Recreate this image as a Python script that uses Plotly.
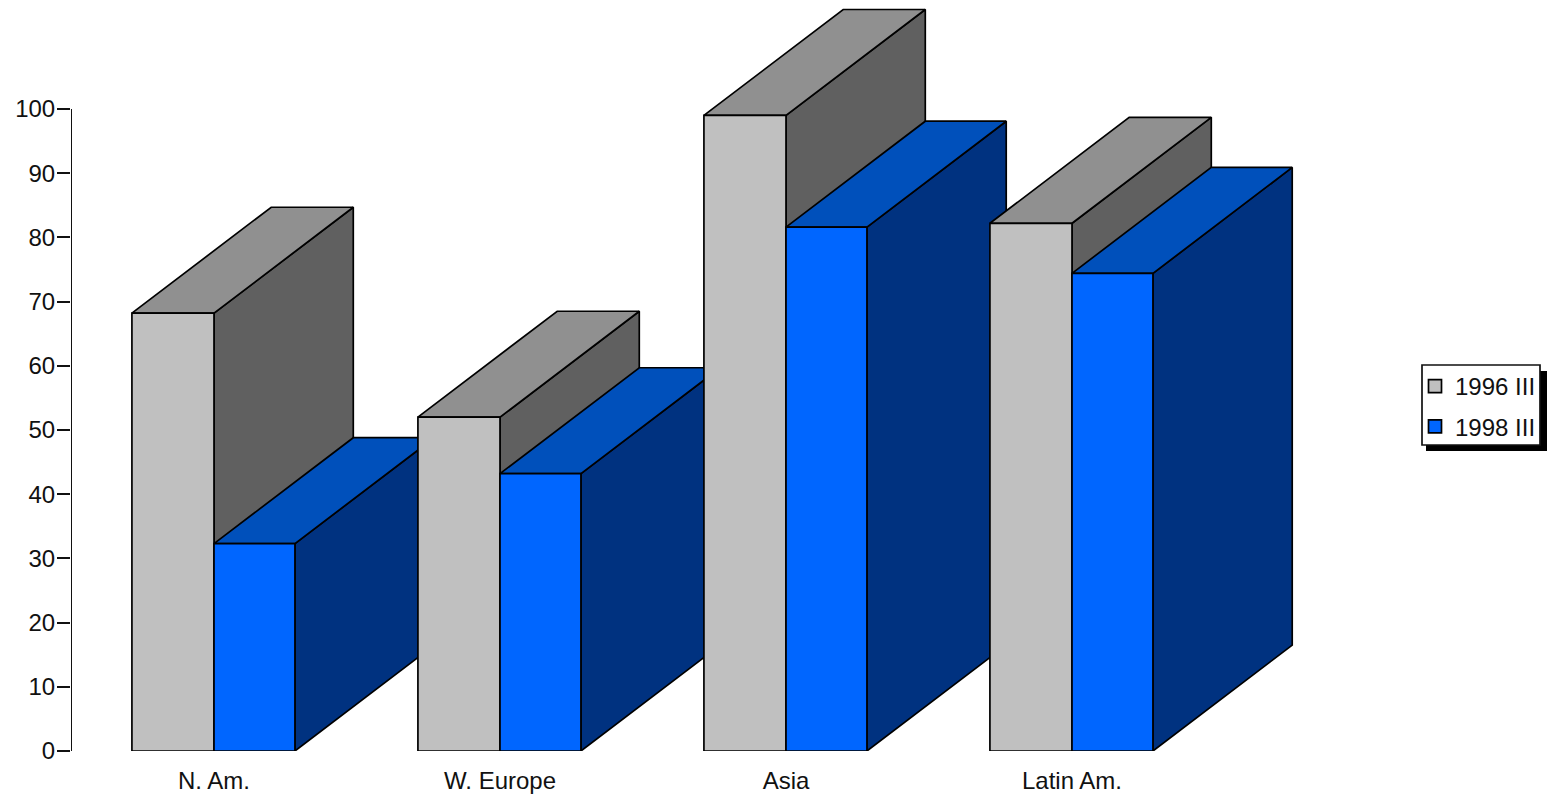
import plotly.graph_objects as go

categories = ["N. Am.", "W. Europe", "Asia", "Latin Am."]
series_1996 = [68.2, 52.0, 99.0, 82.2]
series_1998 = [32.3, 43.2, 81.6, 74.4]
y_ticks = [0, 10, 20, 30, 40, 50, 60, 70, 80, 90, 100]

BAR_W_BACK = 0.287
BAR_W_FRONT = 0.283
DEPTH_X = 0.487
DEPTH_Y = 16.5
EDGE = dict(color="#000000", width=1.7)
FONT = dict(family="Liberation Sans, Arial, sans-serif", size=24, color="#111111")

STYLE = {
    "1996 III": dict(front="#C0C0C0", top="#909090", side="#606060"),
    "1998 III": dict(front="#0066FF", top="#0050BB", side="#003280"),
}

W, H = 1547, 796
L, T, B = 71, 0, 45
PW, PH = W - L, H - T - B

fig = go.Figure()


def face(xs, ys, color):
    fig.add_trace(go.Scatter(
        x=xs, y=ys, mode="lines", fill="toself", fillcolor=color,
        line=EDGE, hoverinfo="skip", showlegend=False, cliponaxis=False,
    ))


def box(x0, x1, value, st):
    d, h = DEPTH_X, DEPTH_Y
    face([x1, x1 + d, x1 + d, x1, x1], [0, h, value + h, value, 0], st["side"])
    face([x0, x0 + d, x1 + d, x1, x0], [value, value + h, value + h, value, value], st["top"])
    face([x0, x1, x1, x0, x0], [0, 0, value, value, 0], st["front"])


for i in range(len(categories)):
    c = i + 0.5
    box(c - BAR_W_BACK, c, series_1996[i], STYLE["1996 III"])
    box(c, c + BAR_W_FRONT, series_1998[i], STYLE["1998 III"])

# value-axis line spans only the labelled range
fig.add_trace(go.Scatter(
    x=[0, 0], y=[y_ticks[0], y_ticks[-1]], mode="lines",
    line=dict(color="#111111", width=2), hoverinfo="skip",
    showlegend=False, cliponaxis=False,
))

for name in STYLE:
    fig.add_trace(go.Scatter(
        x=[None], y=[None], mode="markers", name=name, legendgroup=name,
        marker=dict(symbol="square", size=13, color=STYLE[name]["front"],
                    line=dict(color="#000000", width=1.7)),
    ))


def px(v):
    return (v - L) / PW


def py(v):
    return 1 - (v - T) / PH


fig.update_layout(
    width=W, height=H,
    margin=dict(l=L, r=0, t=T, b=B, autoexpand=False),
    paper_bgcolor="#FFFFFF", plot_bgcolor="#FFFFFF",
    font=FONT,
    showlegend=True,
    legend=dict(
        x=px(1415), y=py(364),
        xanchor="left", yanchor="top",
        bgcolor="rgba(0,0,0,0)", borderwidth=0,
        font=FONT, itemclick=False, itemdoubleclick=False,
        traceorder="grouped", tracegroupgap=6,
    ),
    xaxis=dict(
        range=[0, PW / 286], tickmode="array",
        tickvals=[i + 0.5 for i in range(len(categories))], ticktext=categories,
        showgrid=False, zeroline=False, showline=False, ticks="", tickfont=FONT,
        ticklabelstandoff=13, fixedrange=True,
    ),
    yaxis=dict(
        range=[0, PH / 6.42], tickmode="array", tickvals=y_ticks,
        showgrid=False, zeroline=False, showline=False,
        ticks="outside", ticklen=13, tickwidth=2, tickcolor="#111111",
        tickfont=FONT, ticklabelstandoff=-3, fixedrange=True,
    ),
    shapes=[
        dict(type="rect", xref="paper", yref="paper", layer="below",
             x0=px(1426), x1=px(1547), y0=py(451), y1=py(371),
             fillcolor="#000000", line=dict(width=0)),
        dict(type="rect", xref="paper", yref="paper", layer="below",
             x0=px(1422), x1=px(1540), y0=py(445), y1=py(365),
             fillcolor="#FFFFFF", line=dict(color="#111111", width=1.7)),
    ],
)

fig.write_html("out.html", config={"displayModeBar": False},
               post_script="document.body.style.margin='0';")
